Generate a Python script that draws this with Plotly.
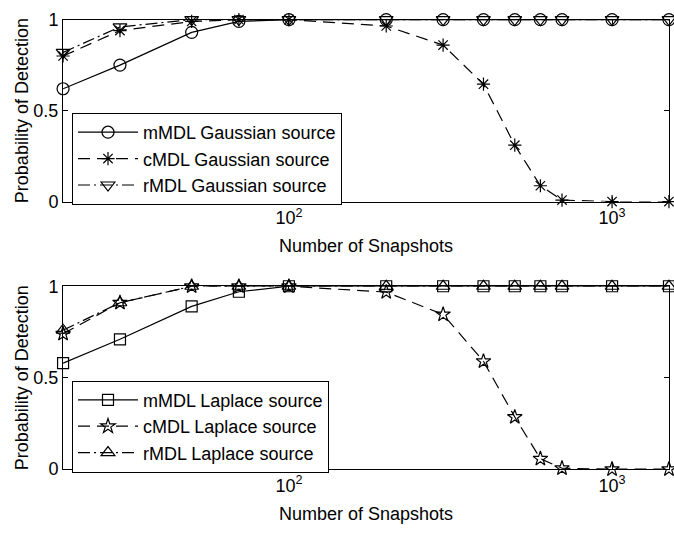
import plotly.graph_objects as go

snapshots = [20, 30, 50, 70, 100, 200, 300, 400, 500, 600, 700, 1000, 1500]

mmdl_gauss = [0.62, 0.75, 0.93, 0.99, 1.0, 1.0, 1.0, 1.0, 1.0, 1.0, 1.0, 1.0, 1.0]
cmdl_gauss = [0.80, 0.94, 0.99, 1.0, 1.0, 0.965, 0.86, 0.645, 0.31, 0.087, 0.008, 0.0, 0.0]
rmdl_gauss = [0.82, 0.96, 1.0, 1.0, 1.0, 1.0, 1.0, 1.0, 1.0, 1.0, 1.0, 1.0, 1.0]

mmdl_lap = [0.58, 0.71, 0.89, 0.97, 1.0, 1.0, 1.0, 1.0, 1.0, 1.0, 1.0, 1.0, 1.0]
cmdl_lap = [0.74, 0.91, 1.0, 1.0, 1.0, 0.968, 0.846, 0.59, 0.285, 0.057, 0.005, 0.0, 0.0]
rmdl_lap = [0.76, 0.91, 1.0, 1.0, 1.0, 1.0, 1.0, 1.0, 1.0, 1.0, 1.0, 1.0, 1.0]

x_major = [100, 1000]
x_major_text = ["10<sup>2</sup>", "10<sup>3</sup>"]
x_minor = [30, 40, 50, 60, 70, 80, 90, 200, 300, 400, 500, 600, 700, 800, 900]
y_ticks = [0, 0.5, 1]
y_ticktext = ["0", "0.5", "1"]

FONT = "Liberation Sans, Arial, Helvetica, sans-serif"
LW = 1.2
DASH = "12px,7px"
DASHDOT = "12px,4px,2px,4px"

fig = go.Figure()

def add(y, name, dash, symbol, size, xa, ya, legend):
    fig.add_trace(go.Scatter(
        x=snapshots, y=y, name=name, mode="lines+markers",
        line=dict(color="black", width=LW, dash=dash),
        marker=dict(symbol=symbol, size=size, color="black",
                    line=dict(color="black", width=LW)),
        xaxis=xa, yaxis=ya, legend=legend, cliponaxis=False))

add(mmdl_gauss, "mMDL Gaussian source", "solid", "circle-open", 12, "x", "y", "legend")
add(cmdl_gauss, "cMDL Gaussian source", DASH, "asterisk-open", 11, "x", "y", "legend")
add(rmdl_gauss, "rMDL Gaussian source", DASHDOT, "triangle-down-open", 12, "x", "y", "legend")

add(mmdl_lap, "mMDL Laplace source", "solid", "square-open", 11, "x2", "y2", "legend2")
add(cmdl_lap, "cMDL Laplace source", DASH, "star-open", 11, "x2", "y2", "legend2")
add(rmdl_lap, "rMDL Laplace source", DASHDOT, "triangle-up-open", 12, "x2", "y2", "legend2")

W, H = 674, 535
XR = [1.3008, 3.1762]
xdom = [63 / W, 669 / W]
ydom_top = [1 - 199 / H, 1 - 10 / H]
ydom_bot = [1 - 477 / H, 1 - 287 / H]

def xaxis(anchor):
    return dict(
        type="log", range=XR, domain=xdom, anchor=anchor,
        tickmode="array", tickvals=x_major, ticktext=x_major_text,
        ticks="inside", ticklen=5, tickwidth=1, tickcolor="black",
        showline=True, linecolor="black", linewidth=1, mirror="allticks",
        showgrid=False, zeroline=False,
        tickfont=dict(family=FONT, size=18, color="black"),
        title=dict(text="Number of Snapshots", standoff=12,
                   font=dict(family=FONT, size=18, color="black")),
    )

def xminor(anchor, overlay):
    return dict(
        type="log", range=XR, domain=xdom, anchor=anchor, overlaying=overlay,
        tickmode="array", tickvals=x_minor, showticklabels=False,
        ticks="inside", ticklen=5, tickwidth=1, tickcolor="black",
        showline=False, mirror="ticks",
        showgrid=False, zeroline=False,
    )

def yaxis(anchor, dom):
    return dict(
        range=[0, 1], domain=dom, anchor=anchor,
        tickmode="array", tickvals=y_ticks, ticktext=y_ticktext,
        ticks="inside", ticklen=5, tickwidth=1, tickcolor="black",
        showline=True, linecolor="black", linewidth=1, mirror="allticks",
        showgrid=False, zeroline=False,
        tickfont=dict(family=FONT, size=18, color="black"),
        title=dict(text="Probability of Detection", standoff=0,
                   font=dict(family=FONT, size=18, color="black")),
    )

leg = dict(
    xanchor="left", yanchor="top", bgcolor="white",
    bordercolor="black", borderwidth=1,
    font=dict(family=FONT, size=18, color="black"),
    itemwidth=60, tracegroupgap=0,
)

fig.update_layout(
    width=W, height=H,
    margin=dict(l=0, r=0, t=0, b=0),
    paper_bgcolor="white", plot_bgcolor="white",
    font=dict(family=FONT, size=18, color="black"),
    xaxis=xaxis("y"), yaxis=yaxis("x", ydom_top),
    xaxis2=xaxis("y2"), yaxis2=yaxis("x2", ydom_bot),
    xaxis3=xminor("y", "x"), xaxis4=xminor("y2", "x2"),
    legend=dict(leg, x=72 / W, y=1 - 107 / H),
    legend2=dict(leg, x=72 / W, y=1 - 385 / H),
    showlegend=True,
)

fig.write_html("out.html")
